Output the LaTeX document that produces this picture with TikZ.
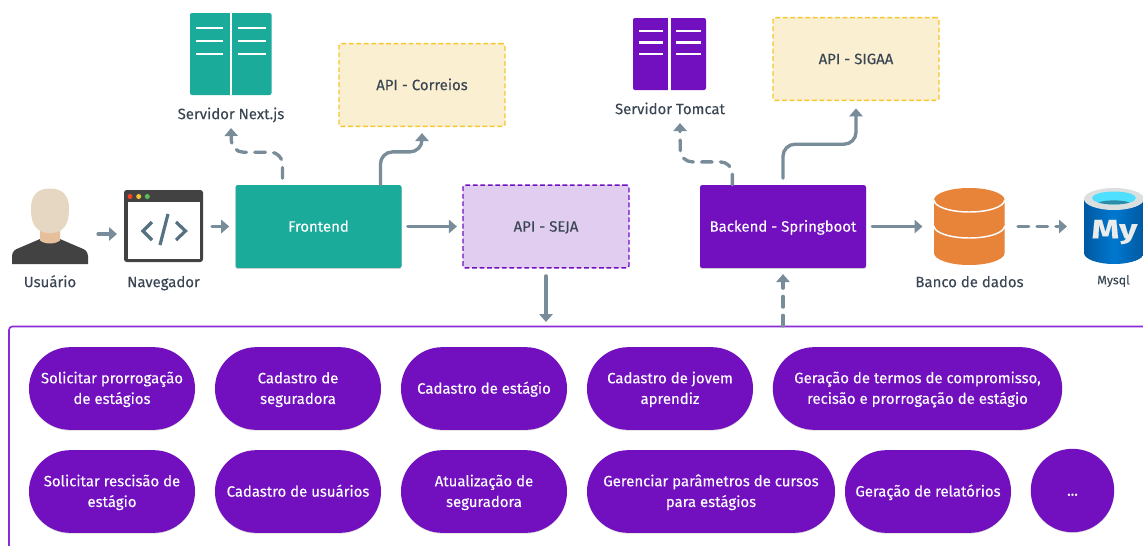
\documentclass[tikz,border=0pt]{standalone}
\usepackage{fontspec}
\setmainfont{Fira Sans}[FakeBold=0.12]
\usetikzlibrary{arrows.meta,shadows,calc}
\definecolor{teal1}{HTML}{1AAB9B}
\definecolor{purp}{HTML}{720FBF}
\definecolor{framec}{HTML}{8A2BD8}
\definecolor{lilac}{HTML}{E0CDF0}
\definecolor{cream}{HTML}{FAEFD0}
\definecolor{gold}{HTML}{F7C52E}
\definecolor{conn}{HTML}{788C9A}
\definecolor{ink}{HTML}{3A4653}
\definecolor{dark}{HTML}{424242}
\definecolor{orng}{HTML}{E8833A}
\definecolor{headc}{HTML}{E6D7C2}
\definecolor{neckc}{HTML}{E6BF9B}
\definecolor{codec}{HTML}{557280}
\definecolor{mya}{HTML}{0058A0}
\definecolor{myb}{HTML}{0078D0}
\definecolor{myrim}{HTML}{DCDFE0}
\definecolor{mycy}{HTML}{4FE0FF}
\definecolor{myin}{HTML}{2B8CA5}
\tikzset{
  x=0.75pt,y=-0.75pt,
  lbl/.style={text=ink,font=\fontsize{11.2}{13}\selectfont,inner sep=0pt,text height=7.7pt,text depth=0pt},
  solidbox/.style={rounded corners=1.5pt,minimum width=124.5pt,minimum height=62pt,inner sep=0pt,text=white,text height=7.7pt,text depth=0pt,font=\fontsize{11.2}{13}\selectfont,drop shadow={shadow xshift=0pt,shadow yshift=-0.8pt,opacity=.2,fill=black}},
  dashbox/.style={rounded corners=1.5pt,dash pattern=on 3.6pt off 2pt,line width=1.1pt,minimum width=124.5pt,minimum height=62pt,inner sep=0pt,text=ink,text height=7.7pt,text depth=0pt,font=\fontsize{11.2}{13}\selectfont},
  pill/.style={fill=purp,rounded corners=30.9pt,minimum height=62pt,inner sep=0pt,text=white,align=center,font=\fontsize{11.2}{15.5}\selectfont,drop shadow={shadow xshift=0pt,shadow yshift=-0.6pt,opacity=.15,fill=black}},
  arr/.style={draw=conn,line width=2.5pt,line cap=round,-{Triangle[length=6pt,width=10pt]},rounded corners=9pt},
  darr/.style={arr,dash pattern=on 8pt off 6.2pt},
}
\newcommand{\tl}[2]{\rule{0pt}{10.2pt}#1\\#2\rule[-2.5pt]{0pt}{2.5pt}}
\newcommand{\ts}[1]{\rule{0pt}{10.2pt}#1\rule[-2.5pt]{0pt}{2.5pt}}
\begin{document}
\begin{tikzpicture}
\useasboundingbox (0,0) rectangle (1143,546);
% frame
\draw[framec,line width=1.2pt,rounded corners=2.5pt] (1160,326.5) -- (9,326.5) -- (9,560);
% server next
\fill[teal1,rounded corners=1.5pt] (190,13) rectangle (271.5,95);
\fill[white] (229.5,12) rectangle (232.3,96);
\foreach \yy in {28,41,54}{\draw[white,line width=1.7pt] (196,\yy) -- (223,\yy) (238,\yy) -- (265.5,\yy);}
\node[lbl] (nextl) at (231,114) {Servidor Next.js};
% server tomcat
\fill[purp,rounded corners=1.5pt] (633,18) rectangle (706,90);
\fill[white] (668,17) rectangle (670.8,91);
\foreach \yy in {31,42.5,54}{\draw[white,line width=1.7pt] (639,\yy) -- (663,\yy) (676,\yy) -- (701,\yy);}
\node[lbl] (tomcatl) at (670,109) {Servidor Tomcat};
% boxes
\node[dashbox,draw=gold,fill=cream] (correios) at (422,85) {API - Correios};
\node[dashbox,draw=gold,fill=cream] (sigaa) at (856,59) {API - SIGAA};
\node[solidbox,fill=teal1] (front) at (318.5,226.5) {Frontend};
\node[dashbox,draw=purp,fill=lilac] (seja) at (546,226.5) {API - SEJA};
\node[solidbox,fill=purp] (back) at (783,226.5) {Backend - Springboot};
% user
\fill[dark] (12,264) -- (12,256) .. controls (12.5,251) and (15,249.5) .. (19,248) -- (40,239) -- (60,239) -- (81,248) .. controls (85,249.5) and (87.5,251) .. (88,256) -- (88,264) -- cycle;
\fill[neckc] (40,228) -- (60,228) -- (60,240.5) .. controls (55,244.5) and (45,244.5) .. (40,240.5) -- cycle;
\fill[headc] (31,208) .. controls (31,195) and (38,188.5) .. (50,188.5) .. controls (62,188.5) and (69,195) .. (69,208) .. controls (69,216) and (69,233) .. (50,233) .. controls (31,233) and (31,216) .. (31,208) -- cycle;
\node[lbl] (userl) at (50,282) {Usuário};
\coordinate (user) at (98,234);
% browser
\fill[dark,rounded corners=2pt] (124,190) rectangle (203,262);
\fill[white] (127.5,202) rectangle (200,258.5);
\fill[red!75!orange!85!white] (130,196.5) circle (2.5);
\fill[gold] (138.7,196.5) circle (2.5);
\fill[green!60!black!65!white] (147.3,196.5) circle (2.5);
\draw[codec,line width=2.4pt] (152,222) -- (143,231) -- (152,240) (176,222) -- (185.5,231) -- (176,240) (168,214) -- (160,245);
\node[lbl] (brl) at (163.5,282) {Navegador};
\coordinate (browserin) at (117,234);
\coordinate (browserout) at (212,226.5);
% db
\fill[orng] (934,200) -- (934,253) arc[start angle=180,end angle=0,x radius=35.3,y radius=12] -- (1004.6,200) arc[start angle=0,end angle=-180,x radius=35.3,y radius=12] -- cycle;
\draw[white,line width=1.1pt] (934,200) arc[start angle=180,end angle=0,x radius=35.3,y radius=12];
\draw[white,line width=1.1pt] (934,226) arc[start angle=180,end angle=0,x radius=35.3,y radius=12];
\node[lbl] (dbl) at (969.5,282) {Banco de dados};
\coordinate (dbin) at (922.5,226.5);
\coordinate (dbout) at (1018,226.5);
% mysql
\shade[left color=mya,right color=mya,middle color=myb] (1084,200) -- (1084,253) arc[start angle=180,end angle=0,x radius=30,y radius=11] -- (1144,200) -- cycle;
\fill[myrim] (1114,199) ellipse[x radius=30,y radius=11];
\fill[mycy] (1114,198) ellipse[x radius=22,y radius=6.5];
\begin{scope}
\clip (1114,198) ellipse[x radius=22,y radius=6.5];
\fill[myin] (1114,204) ellipse[x radius=17,y radius=3.6];
\end{scope}
\node[text=myrim!60!white,inner sep=0pt,font=\fontsize{20}{20}\selectfont\bfseries] (mylogo) at (1114.5,232) {\scalebox{1.32}[1]{My}};
\node[text=ink,inner sep=0pt,text height=6.5pt,text depth=0pt,font=\fontsize{9.3}{10}\selectfont] (mysqll) at (1113.5,280) {Mysql};
\coordinate (mysqlin) at (1067,226.5);
% pills
\node[pill,minimum width=124.5pt] (p1) at (112,388.5) {\tl{Solicitar prorrogação}{de estágios}};
\node[pill,minimum width=124.5pt] (p2) at (298,388.5) {\tl{Cadastro de}{seguradora}};
\node[pill,minimum width=124.5pt] (p3) at (484,388.5) {\ts{Cadastro de estágio}};
\node[pill,minimum width=124.5pt] (p4) at (670,388.5) {\tl{Cadastro de jovem}{aprendiz}};
\node[pill,minimum width=217pt] (p5) at (917.5,388.5) {\tl{Geração de termos de compromisso,}{recisão e prorrogação de estágio}};
\node[pill,minimum width=124.5pt] (q1) at (112,491.5) {\tl{Solicitar rescisão de}{estágio}};
\node[pill,minimum width=124.5pt] (q2) at (298,491.5) {\ts{Cadastro de usuários}};
\node[pill,minimum width=124.5pt] (q3) at (484,491.5) {\tl{Atualização de}{seguradora}};
\node[pill,minimum width=186pt] (q4) at (711,491.5) {\tl{Gerenciar parâmetros de cursos}{para estágios}};
\node[pill,minimum width=124.5pt] (q5) at (928,491.5) {\ts{Geração de relatórios}};
\node[pill,minimum width=62.5pt,minimum height=62.5pt,rounded corners=31pt] (q6) at (1072.5,490.5) {\ts{...}};
% connectors
\draw[arr] (user) -- (browserin);
\draw[arr] (browserout) -- ([xshift=-4.5pt]front.west);
\draw[arr] ([xshift=4.5pt]front.east) -- ([xshift=-4pt]seja.west);
\draw[arr] ([xshift=4.5pt]back.east) -- (dbin);
\draw[darr] (dbout) -- (mysqlin);
\draw[darr] ([xshift=-27pt,yshift=5pt]front.north) -- ++(0,-26) -- ++(-51,0) -- ([yshift=-6.5pt]nextl.south);
\draw[arr] ([xshift=46.5pt]front.north) -- ++(0,-33) -- ++(41.5,0) -- ([yshift=-4.5pt]correios.south);
\draw[arr] ([yshift=-5.5pt]seja.south) -- ([yshift=3pt]seja.south |- 0,326);
\draw[darr] ([xshift=-38pt]back.north) -- ++(0,-23) -- ++(-52,0) -- ([xshift=7.5pt,yshift=-6.5pt]tomcatl.south);
\draw[arr] ([yshift=5pt]back.north) -- ++(0,-34) -- ++(73,0) -- ([yshift=-5.5pt]sigaa.south);
\draw[darr] (back.south |- 0,326) -- ([yshift=-4.5pt]back.south);
\end{tikzpicture}
\end{document}
